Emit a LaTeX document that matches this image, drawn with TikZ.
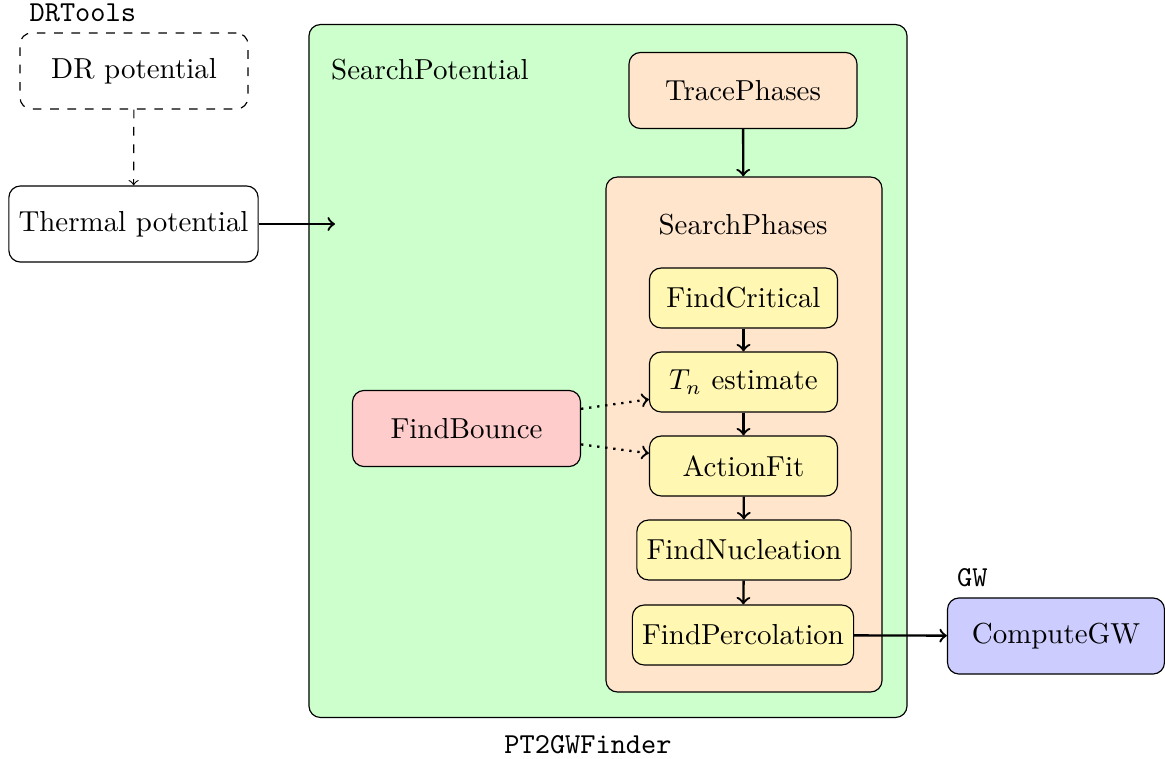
\documentclass[tikz,border=0pt]{standalone}
\usepackage{xcolor}
\usetikzlibrary{arrows}

\definecolor{potgreen}{RGB}{204,255,204}
\definecolor{phasepeach}{RGB}{255,229,204}
\definecolor{stepyellow}{RGB}{255,247,178}
\definecolor{bouncered}{RGB}{255,204,204}
\definecolor{gwblue}{RGB}{204,204,255}

\tikzset{every picture/.style={line width=0.4pt}}
\tikzset{
  blk/.style={draw, rounded corners, minimum width=78.8pt, minimum height=26.3pt},
  substep/.style={draw, rounded corners, fill=stepyellow, minimum width=65pt, minimum height=20.7pt},
  arr/.style={->, thick},
  dotarr/.style={->, thick, dotted},
}

\begin{document}
\begin{tikzpicture}[x=0.3456pt,y=0.3456pt,yscale=-1,xscale=1]
\useasboundingbox (0,0) rectangle (1165,759);

%Frames
\node [draw, rounded corners, fill=potgreen, minimum width=206.7pt, minimum height=239.5pt] (potbox) at (608,371) {};
\node [draw, rounded corners, fill=phasepeach, minimum width=95.4pt, minimum height=178pt] (phasebox) at (744,434.5) {};

% Text Node
\node [blk, dashed] (dr) at (134,71) {DR potential};
\node [anchor=south west, font=\ttfamily] (drtools) at (dr.north west) {DRTools};
\node [blk, minimum width=0pt] (thermal) at (133.5,224) {Thermal potential};
\coordinate (inp) at (335,224);
\node [anchor=west] (potlabel) at (321,70) {SearchPotential};
\node [blk, fill=phasepeach] (trace) at (743,90.5) {TracePhases};
\node (phaselabel) at (743,225) {SearchPhases};
\node [substep] (crit) at (743.5,298) {FindCritical};
\node [substep] (tn) at (743.5,382) {$T_n$ estimate};
\node [substep] (fit) at (743.5,466) {ActionFit};
\node [substep] (nucl) at (744,550) {FindNucleation};
\node [substep] (perc) at (743,635) {FindPercolation};
\node [blk, fill=bouncered] (bounce) at (466.5,428.5) {FindBounce};
\node [blk, fill=gwblue, minimum width=75pt] (gw) at (1056,636) {ComputeGW};
\node [anchor=south west, font=\ttfamily] (gwlabel) at (gw.north west) {GW};
\node [font=\ttfamily] (finder) at (588,745) {PT2GWFinder};

%Straight Lines
\draw [->, dashed] (dr) -- (thermal);
\draw [arr] (thermal) -- (inp);
\draw [arr] (trace) -- (phasebox);
\draw [arr] (crit) -- (tn);
\draw [arr] (tn) -- (fit);
\draw [arr] (fit) -- (nucl);
\draw [arr] (nucl) -- (perc);
\draw [arr] (perc) -- (gw);
\draw [dotarr] ([yshift=-6.8pt]bounce.east) -- ([yshift=6pt]tn.west);
\draw [dotarr] ([yshift=5.5pt]bounce.east) -- ([yshift=-4.4pt]fit.west);

\end{tikzpicture}
\end{document}
